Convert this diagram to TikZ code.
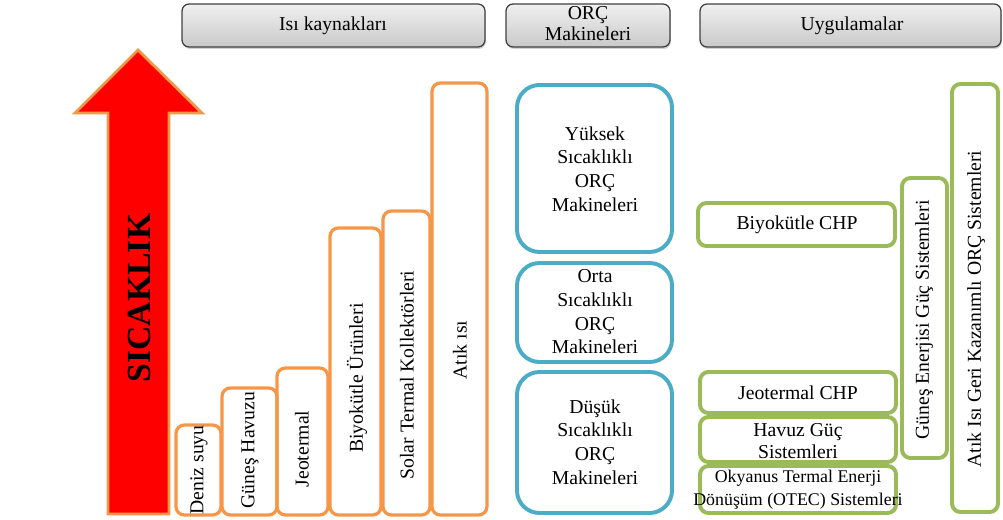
\documentclass[tikz,border=0pt]{standalone}
\usepackage{fontspec}
\setmainfont{Liberation Serif}
\usetikzlibrary{shadows}
\definecolor{turuncu}{HTML}{F79646}
\definecolor{mavi}{HTML}{4BACC6}
\definecolor{yesil}{HTML}{9BBB59}
\begin{document}
\begin{tikzpicture}[x=0.025cm, y=-0.025cm, font=\fontsize{14}{16.8}\selectfont,
    baslik/.style={draw=black!75, line width=0.9pt, rounded corners=5pt,
      top color=gray!12, bottom color=gray!42,
      drop shadow={shadow xshift=0.6pt, shadow yshift=-1.4pt, opacity=0.35}},
    kaynak/.style={draw=turuncu, line width=2.3pt, rounded corners=6pt},
    orc/.style={draw=mavi, line width=2.8pt, rounded corners=16pt},
    uyg/.style={draw=yesil, line width=2.8pt, rounded corners=6pt},
    dikey/.style={rotate=90, inner sep=0pt},
    metin/.style={align=center, inner sep=0pt}]

\useasboundingbox (0,0) rectangle (1003,519);

% Başlıklar
\draw[baslik] (182,4) rectangle (485,47);
\node[metin] (isi) at (333,26) {Isı kaynakları};
\draw[baslik] (506,4) rectangle (670,47);
\node[metin, font=\fontsize{14}{15}\selectfont] (orcb) at (588,24) {ORÇ\\Makineleri};
\draw[baslik] (700,4) rectangle (1001,47);
\node[metin] (uygb) at (852,26) {Uygulamalar};

% Sıcaklık oku
\draw[fill=red, draw=turuncu, line width=2pt, line join=miter]
  (108,514) -- (108,113) -- (75,113) -- (138,50) -- (202,113)
  -- (169,113) -- (169,514) -- cycle;
\node[dikey, font=\bfseries\fontsize{24}{24}\selectfont] (sicaklik) at (139,298) {SICAKLIK};

% Isı kaynakları (soldan sağa artan)
\draw[kaynak] (176,425) rectangle (221,515);
\draw[kaynak] (222,388) rectangle (277,515);
\draw[kaynak] (277,368) rectangle (328,515);
\draw[kaynak] (330,228) rectangle (381,515);
\draw[kaynak] (383,211) rectangle (430,515);
\draw[kaynak] (432,83)  rectangle (487,515);
\node[dikey] (deniz)  at (199,470) {Deniz suyu};
\node[dikey] (havuz)  at (250,450) {Güneş Havuzu};
\node[dikey] (jeo)    at (302,449) {Jeotermal};
\node[dikey] (biyo)   at (357,378) {Biyokütle Ürünleri};
\node[dikey] (solar)  at (407,375) {Solar Termal Kollektörleri};
\node[dikey] (atik)   at (460,350) {Atık ısı};

% ORÇ makineleri
\draw[orc] (517,85)  rectangle (672,252);
\draw[orc] (517,263) rectangle (672,362);
\draw[orc] (517,372) rectangle (672,513);
\node[metin] (yuksek) at (595,169) {Yüksek\\Sıcaklıklı\\ORÇ\\Makineleri};
\node[metin] (orta)   at (595,312) {Orta\\Sıcaklıklı\\ORÇ\\Makineleri};
\node[metin] (dusuk)  at (595,442) {Düşük\\Sıcaklıklı\\ORÇ\\Makineleri};

% Uygulamalar
\draw[uyg] (698,203) rectangle (895,246);
\draw[uyg] (700,372) rectangle (896,413);
\draw[uyg] (700,417) rectangle (896,462);
\draw[uyg] (700,466) rectangle (896,513);
\draw[uyg] (902,178) rectangle (947,458);
\draw[uyg] (952,84)  rectangle (998,512);
\node[metin] (biyochp) at (797,225) {Biyokütle CHP};
\node[metin] (jeochp)  at (798,393) {Jeotermal CHP};
\node[metin, font=\fontsize{14}{15.6}\selectfont] (havuzguc) at (798,441) {Havuz Güç\\Sistemleri};
\node[metin, font=\fontsize{12.7}{16.4}\selectfont] (otec) at (798,490) {Okyanus Termal Enerji\\Dönüşüm (OTEC) Sistemleri};
\node[dikey] (gunes) at (924,320) {Güneş Enerjisi Güç Sistemleri};
\node[dikey] (atikorc) at (976,309) {Atık Isı Geri Kazanımlı ORÇ Sistemleri};

\end{tikzpicture}
\end{document}
